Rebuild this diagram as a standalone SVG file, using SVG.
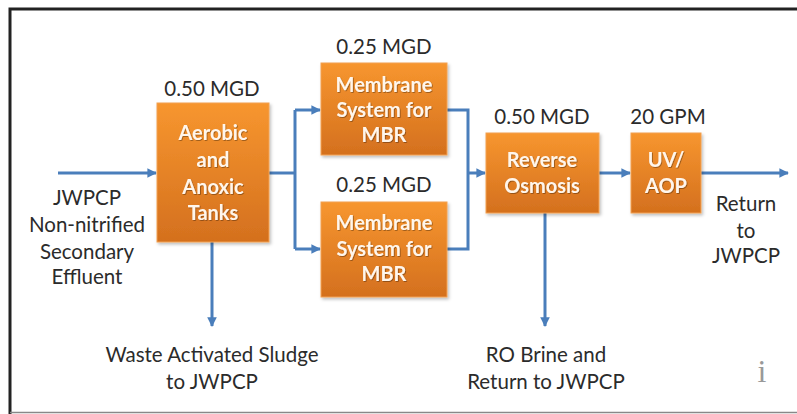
<svg xmlns="http://www.w3.org/2000/svg" width="797" height="414" viewBox="0 0 797 414">
<defs>
<linearGradient id="og" x1="0" y1="0" x2="0" y2="1">
<stop offset="0" stop-color="#F7962F"/>
<stop offset="1" stop-color="#D4701E"/>
</linearGradient>
<filter id="sh" x="-10%" y="-10%" width="125%" height="125%">
<feDropShadow dx="1.5" dy="2" stdDeviation="1.5" flood-color="#000" flood-opacity="0.25"/>
</filter>
<filter id="tsh" x="-10%" y="-10%" width="130%" height="130%">
<feDropShadow dx="0.8" dy="0.8" stdDeviation="0.6" flood-color="#000" flood-opacity="0.4"/>
</filter>
<marker id="ah" viewBox="0 0 10 10" refX="9" refY="5" markerWidth="3.2" markerHeight="3.2" orient="auto" markerUnits="strokeWidth">
<path d="M0,0 L10,5 L0,10 z" fill="#4A7EBB"/>
</marker>
</defs>
<style>
.box{fill:url(#og);stroke:#F2A050;stroke-width:1;filter:url(#sh)}
.bt{font-family:Lato,"Open Sans",sans-serif;font-size:20px;font-weight:bold;fill:#FFF6EC;text-anchor:middle;filter:url(#tsh)}
.lb{font-family:Lato,"Open Sans",sans-serif;font-size:20.5px;fill:#2B2B2B;text-anchor:middle}
.cn{fill:none;stroke:#4A7EBB;stroke-width:3;stroke-linejoin:miter}
.ar{marker-end:url(#ah)}
</style>
<rect x="0" y="0" width="797" height="414" fill="#FFFFFF"/>
<path d="M10,414 L10,9 L797,9" fill="none" stroke="#222" stroke-width="3"/>
<line x1="10" y1="412.5" x2="797" y2="412.5" stroke="#888" stroke-width="1.5"/>

<g id="connectors">
<line class="cn ar" x1="58" y1="173" x2="156" y2="173"/>
<polyline class="cn" points="269,173 295,173"/>
<polyline class="cn ar" points="295,110 295,110 320,110"/>
<polyline class="cn" points="295,110 295,249"/>
<polyline class="cn ar" points="295,249 320,249"/>
<polyline class="cn" points="447,110 468,110 468,249 447,249"/>
<polyline class="cn ar" points="468,173 485,173"/>
<line class="cn ar" x1="599" y1="173" x2="630" y2="173"/>
<line class="cn ar" x1="701" y1="173" x2="788" y2="173"/>
<line class="cn ar" x1="212" y1="242" x2="212" y2="326"/>
<line class="cn ar" x1="545" y1="213" x2="545" y2="326"/>
</g>

<g id="aerobic">
<rect class="box" x="157" y="103" width="112" height="139"/>
<text class="bt" x="213" y="140">Aerobic</text>
<text class="bt" x="213" y="167">and</text>
<text class="bt" x="213" y="194">Anoxic</text>
<text class="bt" x="213" y="220">Tanks</text>
<text class="lb" x="212" y="96">0.50 MGD</text>
</g>

<g id="membrane1">
<rect class="box" x="321" y="63" width="126" height="92"/>
<text class="bt" x="384" y="92">Membrane</text>
<text class="bt" x="384" y="117">System for</text>
<text class="bt" x="384" y="142">MBR</text>
<text class="lb" x="384" y="54">0.25 MGD</text>
</g>

<g id="membrane2">
<rect class="box" x="321" y="202" width="126" height="95"/>
<text class="bt" x="384" y="230">Membrane</text>
<text class="bt" x="384" y="256">System for</text>
<text class="bt" x="384" y="281">MBR</text>
<text class="lb" x="384" y="192">0.25 MGD</text>
</g>

<g id="ro">
<rect class="box" x="486" y="133" width="113" height="80"/>
<text class="bt" x="542" y="167">Reverse</text>
<text class="bt" x="542" y="193">Osmosis</text>
<text class="lb" x="542" y="124">0.50 MGD</text>
</g>

<g id="uvaop">
<rect class="box" x="631" y="133" width="70" height="80"/>
<text class="bt" x="666" y="167">UV/</text>
<text class="bt" x="666" y="193">AOP</text>
<text class="lb" x="668" y="124">20 GPM</text>
</g>

<g id="influent">
<text class="lb" x="87" y="205">JWPCP</text>
<text class="lb" x="87" y="232">Non-nitrified</text>
<text class="lb" x="87" y="259">Secondary</text>
<text class="lb" x="87" y="284">Effluent</text>
</g>

<g id="was">
<text class="lb" x="212" y="362">Waste Activated Sludge</text>
<text class="lb" x="212" y="389">to JWPCP</text>
</g>

<g id="brine">
<text class="lb" x="546" y="362">RO Brine and</text>
<text class="lb" x="546" y="389">Return to JWPCP</text>
</g>

<g id="return">
<text class="lb" x="746" y="211">Return</text>
<text class="lb" x="746" y="238">to</text>
<text class="lb" x="746" y="263">JWPCP</text>
</g>

<text x="762" y="382" font-family="Liberation Serif,serif" font-size="32" fill="#999" text-anchor="middle">i</text>
</svg>
